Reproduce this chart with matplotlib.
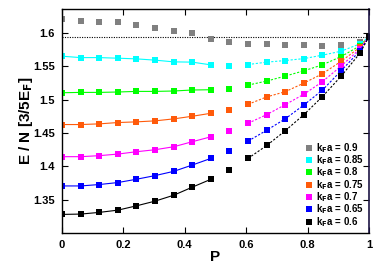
"""
Energy per particle vs polarization P for several k_F a values.
Solid lines below the gap, dashed lines above it, grey points unconnected.
"""

import matplotlib
matplotlib.use("Agg")
import matplotlib.pyplot as plt
from matplotlib.lines import Line2D

# polarization grid (steps of 4/66), last point is the fully polarized gas
P = [0.0, 0.061, 0.121, 0.182, 0.242, 0.303, 0.364, 0.424, 0.485,
     0.545, 0.606, 0.667, 0.727, 0.788, 0.848, 0.909, 0.970, 1.0]

kfa_labels = ['0.9', '0.85', '0.8', '0.75', '0.7', '0.65', '0.6']

E_09 = [1.6209, 1.6175, 1.6164, 1.6169, 1.6115, 1.6075, 1.6034, 1.6000, 1.5903,
        1.5870, 1.5831, 1.5831, 1.5821, 1.5816, 1.5806, 1.5821, 1.5866, 1.5945]
E_085 = [1.5652, 1.5631, 1.5631, 1.5622, 1.5612, 1.5593, 1.5567, 1.5563, 1.5522,
         1.5512, 1.5527, 1.5563, 1.5587, 1.5616, 1.5667, 1.5727, 1.5836, 1.5945]
E_08 = [1.5104, 1.5109, 1.5109, 1.5115, 1.5124, 1.5124, 1.5130, 1.5145, 1.5149,
        1.5164, 1.5219, 1.5279, 1.5354, 1.5433, 1.5522, 1.5646, 1.5806, 1.5945]
E_075 = [1.4627, 1.4627, 1.4637, 1.4657, 1.4667, 1.4682, 1.4712, 1.4751, 1.4796,
         1.4846, 1.4930, 1.5042, 1.5119, 1.5249, 1.5388, 1.5575, 1.5784, 1.5945]
E_07 = [1.4145, 1.4145, 1.4160, 1.4184, 1.4219, 1.4249, 1.4294, 1.4369, 1.4443,
        1.4527, 1.4646, 1.4776, 1.4925, 1.5082, 1.5269, 1.5503, 1.5761, 1.5945]
E_065 = [1.3706, 1.3706, 1.3727, 1.3757, 1.3806, 1.3861, 1.3925, 1.4019, 1.4119,
         1.4228, 1.4378, 1.4542, 1.4712, 1.4921, 1.5142, 1.5433, 1.5731, 1.5945]
E_06 = [1.3279, 1.3284, 1.3309, 1.3343, 1.3407, 1.3478, 1.3567, 1.3687, 1.3806,
        1.3951, 1.4119, 1.4313, 1.4533, 1.4776, 1.5045, 1.5351, 1.5694, 1.5945]

E_full = 1.5945  # fully polarized reference (dotted line)

series = [E_09, E_085, E_08, E_075, E_07, E_065, E_06]
colors = ['#808080', '#00ffff', '#00ff00', '#ff5a0a', '#ff00ff', '#0000ff', '#000000']


def main():
    plt.rcParams['font.family'] = ['Liberation Sans', 'DejaVu Sans']
    plt.rcParams['font.weight'] = 'bold'

    fig = plt.figure(figsize=(3.82, 2.67), dpi=100)
    ax = fig.add_axes([0.1623, 0.1273, 0.8037, 0.839])

    ax.plot([0, 1], [E_full, E_full], color='k', linestyle=(0, (1, 1.2)), linewidth=0.8)

    ms = 4.6
    for i, (E, c) in enumerate(zip(series, colors)):
        if i == 0:
            # grey points are not joined
            ax.plot(P, E, 's', color=c, ms=ms, mew=0)
            continue
        ax.plot(P[:9], E[:9], '-s', color=c, lw=0.8, ms=ms, mew=0)
        ax.plot(P[9:10], E[9:10], 's', color=c, ms=ms, mew=0)
        ax.plot(P[10:], E[10:], 's', color=c, ls=(0, (2, 1.5)), lw=0.8, ms=ms, mew=0)

    ax.set_xlim(0, 1)
    ax.set_ylim(1.30, 1.636)
    ax.set_xticks([0, 0.2, 0.4, 0.6, 0.8, 1])
    ax.set_xticklabels(['0', '0.2', '0.4', '0.6', '0.8', '1'])
    ax.set_yticks([1.35, 1.4, 1.45, 1.5, 1.55, 1.6])
    ax.set_yticklabels(['1.35', '1.4', '1.45', '1.5', '1.55', '1.6'])
    ax.tick_params(direction='in', top=True, right=True, length=4, width=0.8,
                   labelsize=8, pad=5)
    for lab in ax.get_xticklabels() + ax.get_yticklabels():
        lab.set_fontweight('bold')
    for side in ['left', 'bottom', 'top']:
        ax.spines[side].set_linewidth(1.0)
    ax.spines['right'].set_color('#1c1444')
    ax.spines['right'].set_linewidth(1.2)

    ax.set_xlabel('P', fontsize=11, fontweight='bold', labelpad=0)
    ax.set_ylabel('E / N [3/5E$_\\mathbf{F}$]', fontsize=11, fontweight='bold', labelpad=-1)

    handles = [Line2D([], [], marker='s', ls='none', color=c, ms=ms, mew=0) for c in colors]
    labels = ['k$_\\mathbf{F}$a = ' + k for k in kfa_labels]
    ax.legend(handles, labels, loc='lower right', bbox_to_anchor=(0.99, 0.01),
              frameon=False, prop={'weight': 'bold', 'size': 7},
              handlelength=0.6, handletextpad=0.4, labelspacing=-0.15,
              borderaxespad=0, borderpad=0.2)

    fig.savefig('out.png', dpi=100)


if __name__ == "__main__":
    main()
